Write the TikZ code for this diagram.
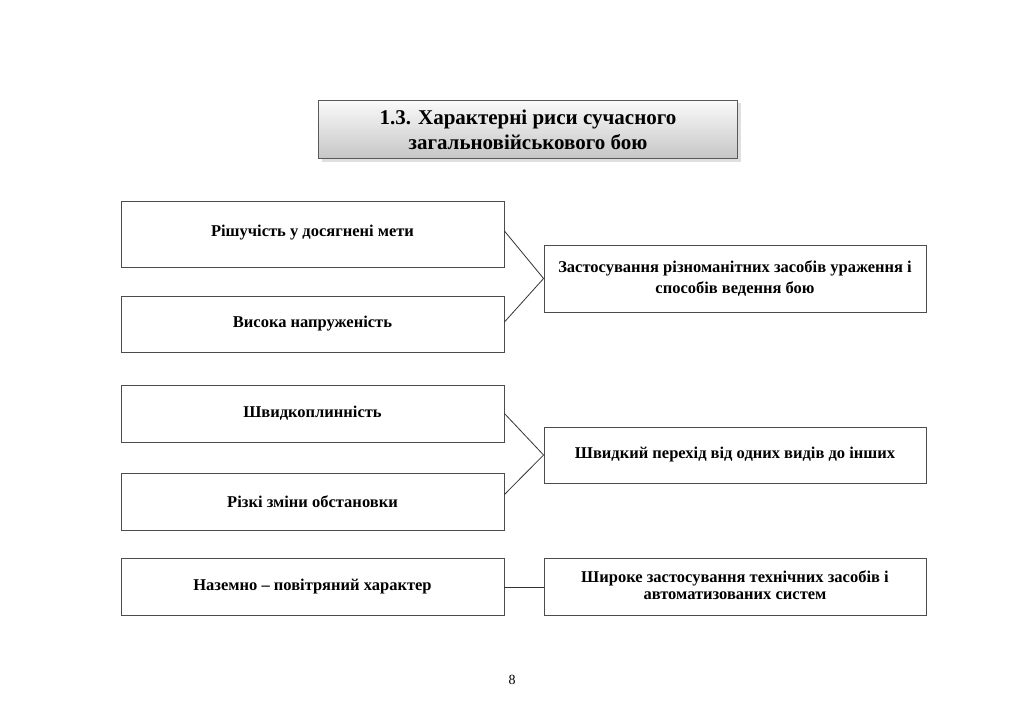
\documentclass[tikz,border=0pt]{standalone}
\usepackage{fontspec}
\setmainfont{Liberation Serif}
\usetikzlibrary{calc}
\begin{document}
\begin{tikzpicture}[x=1pt,y=-1pt,
  boxl/.style={draw=black!70, line width=0.9pt, fill=white, minimum width=383pt, inner sep=0pt, align=center, font=\fontsize{16.5}{21}\selectfont\bfseries},
  conn/.style={draw=black!80, line width=0.8pt},
  titlebox/.style={draw=black!65, line width=0.9pt, minimum width=419pt, minimum height=58pt, inner sep=0pt, align=center,
     top color=gray!4, bottom color=gray!45, font=\fontsize{21}{25}\selectfont\bfseries}]
\useasboundingbox (0,0) rectangle (1024,725);
\fill[white] (0,0) rectangle (1024,725);
% title shadow
\fill[gray!25] (322,103) rectangle (741,162);
\node[titlebox] (title) at (528,129.5) {1.3. Характерні риси сучасного\\загальновійськового бою};
% left column
\node[boxl, minimum height=66pt] (b1) at (312.5,234) {\raisebox{6pt}{Рішучість у досягнені мети}};
\node[boxl, minimum height=56pt] (b2) at (312.5,324) {\raisebox{-1.5pt}{Висока напруженість}};
\node[boxl, minimum height=57pt] (b3) at (312.5,413.5) {Швидкоплинність};
\node[boxl, minimum height=57pt] (b4) at (312.5,501.5) {Різкі зміни обстановки};
\node[boxl, minimum height=57pt] (b5) at (312.5,587) {Наземно – повітряний характер};
% right column
\node[boxl, minimum width=382pt, minimum height=67pt] (r1) at (735,278.5) {Застосування різноманітних засобів ураження і\\способів ведення бою};
\node[boxl, minimum width=382pt, minimum height=56pt] (r2) at (735,455) {Швидкий перехід від одних видів до інших};
\node[boxl, minimum width=382pt, minimum height=57pt] (r3) at (735,587) {\raisebox{2pt}{\begin{tabular}{@{}c@{}}Широке застосування технічних засобів і\\[-4pt]автоматизованих систем\end{tabular}}};
% connectors
\draw[conn] ([yshift=3pt]b1.east) -- (r1.west) -- ([yshift=2pt]b2.east);
\draw[conn] (b3.east) -- (r2.west) -- ([yshift=7pt]b4.east);
\draw[conn] (b5.east) -- (r3.west);
% page number
\node[font=\fontsize{14}{16}\selectfont] (pn) at (512,680) {8};
\end{tikzpicture}
\end{document}
